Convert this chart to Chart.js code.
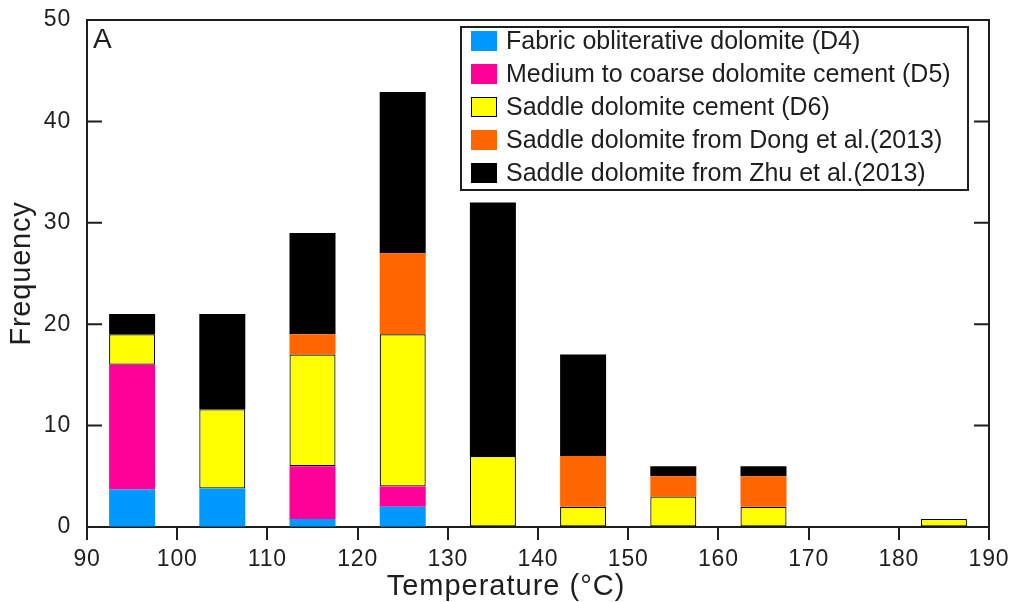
<!DOCTYPE html>
<html>
<head>
<meta charset="utf-8">
<script src="https://cdn.jsdelivr.net/npm/chart.js@4"></script>
<style>
  body { margin: 0; background: #fff; }
  #wrap { width: 1015px; height: 602px; }
</style>
</head>
<body>
<div id="wrap"><canvas id="graph"></canvas></div>
<script>
// bin centres (°C) and stacked counts per group
const temps = [95, 105, 115, 125, 135, 145, 155, 165, 175, 185];
const d4 = [3.7, 3.8, 0.8, 2, null, null, null, null, null, null];
const d5 = [12.3, null, 5.2, 2, null, null, null, null, null, null];
const d6 = [3, 7.8, 11, 15, 7, 2, 3, 2, null, 0.8];
const dong = [null, null, 2, 8, null, 5, 2, 3, null, null];
const zhu = [2, 9.4, 10, 15.9, 25, 10, 1, 1, null, null];

const seriesLabels = [
  'Fabric obliterative dolomite (D4)',
  'Medium to coarse dolomite cement (D5)',
  'Saddle dolomite cement (D6)',
  'Saddle dolomite from Dong et al.(2013)',
  'Saddle dolomite from Zhu et al.(2013)'
];
const xTicks = [90, 100, 110, 120, 130, 140, 150, 160, 170, 180, 190];
const yTicks = [0, 10, 20, 30, 40, 50];

style = {
  blue: '#0099FF',
  pink: '#FF0099',
  yellow: '#FFFF00',
  orange: '#FF6600',
  black: '#000000',
  ink: '#1e1e1e',
  font: "'Liberation Sans', Arial, sans-serif"
};

// slightly wider text like the original figure
const spacing = {
  id: 'spacing',
  beforeDraw(chart) { chart.ctx.letterSpacing = '0.8px'; }
};

// legend box, panel letter, x title and inward ticks drawn inside the plot
const boxLegend = {
  id: 'boxLegend',
  afterDraw(chart) {
    const ctx = chart.ctx;
    const a = chart.chartArea;
    ctx.save();
    ctx.fillStyle = style.ink;
    ctx.font = '28px ' + style.font;
    ctx.textBaseline = 'alphabetic';
    ctx.textAlign = 'left';
    ctx.fillText('A', a.left + 6, a.top + 28);

    // x axis title (sits a bit left of centre in the original)
    ctx.letterSpacing = '1px';
    ctx.font = '29px ' + style.font;
    ctx.textAlign = 'center';
    ctx.fillText('Temperature (°C)', a.left + 419, a.bottom + 68);

    // inward ticks on left and right axes
    const y = chart.scales.y;
    ctx.strokeStyle = style.ink;
    ctx.lineWidth = 2;
    y.ticks.forEach(t => {
      const py = y.getPixelForValue(t.value);
      ctx.beginPath();
      ctx.moveTo(a.left, py); ctx.lineTo(a.left + 15, py);
      ctx.moveTo(a.right - 15, py); ctx.lineTo(a.right, py);
      ctx.stroke();
    });

    // legend
    const bx = a.left + 374, by = a.top + 7, bw = 507, bh = 163;
    ctx.fillStyle = '#fff';
    ctx.fillRect(bx, by, bw, bh);
    ctx.lineWidth = 2;
    ctx.strokeRect(bx, by, bw, bh);
    ctx.letterSpacing = '0px';
    ctx.font = '25px ' + style.font;
    ctx.textAlign = 'left';
    ctx.textBaseline = 'middle';
    chart.data.datasets.forEach((ds, i) => {
      const cy = by + 14 + i * 33;
      ctx.fillStyle = ds.backgroundColor;
      ctx.fillRect(bx + 10, cy - 10, 26, 20);
      if (ds.borderWidth) {
        ctx.lineWidth = 1;
        ctx.strokeStyle = '#000';
        ctx.strokeRect(bx + 10.5, cy - 9.5, 25, 19);
      }
      ctx.fillStyle = style.ink;
      ctx.fillText(ds.label, bx + 45, cy + 1);
    });
    ctx.restore();
  }
};

const colors = [style.blue, style.pink, style.yellow, style.orange, style.black];
const series = [d4, d5, d6, dong, zhu];

const data = {
  labels: temps,
  datasets: series.map((s, i) => ({
    label: seriesLabels[i],
    data: s,
    backgroundColor: colors[i],
    borderColor: '#000',
    borderWidth: i === 2 ? 1.2 : 0,
    borderSkipped: false,
    categoryPercentage: 1,
    barPercentage: 0.51
  }))
};

const tickFont = { family: style.font, size: 23 };
const titleFont = { family: style.font, size: 29 };

graph = new Chart(document.getElementById('graph'), {
  type: 'bar',
  data,
  plugins: [spacing, boxLegend],
  options: {
    responsive: true,
    maintainAspectRatio: false,
    animation: false,
    layout: { padding: { top: 20, right: 26, left: 0, bottom: 0 } },
    plugins: {
      legend: { display: false },
      tooltip: { enabled: false }
    },
    scales: {
      x: {
        type: 'linear',
        stacked: true,
        min: 90,
        max: 190,
        offset: false,
        afterBuildTicks: s => { s.ticks = xTicks.map(v => ({ value: v })); },
        ticks: { color: style.ink, font: tickFont, padding: 6, maxRotation: 0 },
        grid: { offset: false, drawOnChartArea: false, drawTicks: true, tickLength: 13, color: style.ink, lineWidth: 2 },
        border: { display: true, color: style.ink, width: 2 },
        afterFit: s => { s.height = 75; }
      },
      x2: {
        type: 'linear',
        position: 'top',
        min: 90,
        max: 190,
        ticks: { display: false },
        grid: { display: false, drawTicks: false },
        border: { display: true, color: style.ink, width: 2 },
        afterFit: s => { s.height = 0; }
      },
      y: {
        stacked: true,
        min: 0,
        max: 50,
        afterBuildTicks: s => { s.ticks = yTicks.map(v => ({ value: v })); },
        ticks: { color: style.ink, font: tickFont, padding: 16 },
        grid: { drawOnChartArea: false, drawTicks: false },
        border: { display: true, color: style.ink, width: 2 },
        title: { display: true, text: 'Frequency', color: style.ink, font: titleFont, padding: { top: 5, bottom: 0 } },
        afterFit: s => { s.width = 87; s.paddingTop = 0; s.paddingBottom = 0; }
      },
      y2: {
        position: 'right',
        min: 0,
        max: 50,
        ticks: { display: false },
        grid: { display: false, drawTicks: false },
        border: { display: true, color: style.ink, width: 2 },
        afterFit: s => { s.width = 0; s.paddingTop = 0; s.paddingBottom = 0; }
      }
    }
  }
});
</script>
</body>
</html>
